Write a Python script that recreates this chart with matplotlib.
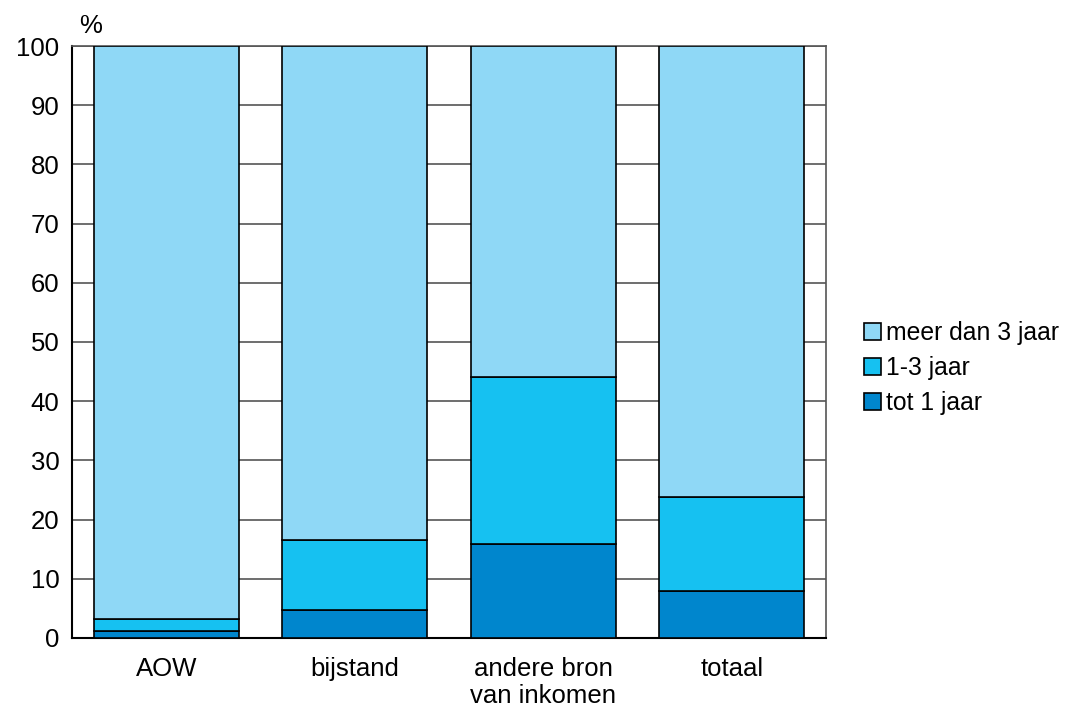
import numpy as np
import matplotlib.pyplot as plt

plt.rcParams['font.family'] = ['Liberation Sans', 'DejaVu Sans']

# data (percentages)
categories = ['AOW', 'bijstand', 'andere bron\nvan inkomen', 'totaal']
tot_1_jaar = [1.2, 4.7, 15.9, 7.9]
jaar_1_3 = [2.0, 11.9, 28.2, 15.9]
meer_dan_3 = [100 - a - b for a, b in zip(tot_1_jaar, jaar_1_3)]

colors = ['#0086CD', '#16C1F1', '#8FD8F6']
fs = 18.5

fig = plt.figure(figsize=(10.68, 7.08), dpi=100)
ax = fig.add_axes([0.0674, 0.0989, 0.706, 0.8361])

x = np.arange(len(categories))
w = 0.77
b1 = ax.bar(x, tot_1_jaar, w, color=colors[0], edgecolor='black', linewidth=1.2, zorder=3, label='tot 1 jaar')
b2 = ax.bar(x, jaar_1_3, w, bottom=tot_1_jaar, color=colors[1], edgecolor='black', linewidth=1.2, zorder=3, label='1-3 jaar')
bottom3 = np.array(tot_1_jaar) + np.array(jaar_1_3)
b3 = ax.bar(x, meer_dan_3, w, bottom=bottom3, color=colors[2], edgecolor='black', linewidth=1.2, zorder=3, label='meer dan 3 jaar')

ax.set_xlim(-0.5, len(categories) - 0.5)
ax.set_ylim(0, 100)
ax.set_yticks(range(0, 101, 10))
ax.yaxis.grid(True, color='#555555', linewidth=1.2, zorder=0)
ax.tick_params(axis='y', length=0, labelsize=fs, pad=9)
ax.tick_params(axis='x', length=0, labelsize=fs, pad=14)
ax.set_xticks(x)
ax.set_xticklabels(categories, linespacing=1.15)
for s in ['left', 'bottom']:
    ax.spines[s].set_color('black')
    ax.spines[s].set_linewidth(1.5)
for s in ['top', 'right']:
    ax.spines[s].set_color('#555555')
    ax.spines[s].set_linewidth(1.2)

fig.text(0.0845, 0.963, '%', fontsize=fs, ha='center', va='center')

handles = [b3, b2, b1]
labels = ['meer dan 3 jaar', '1-3 jaar', 'tot 1 jaar']
fig.legend(handles, labels, loc='center left', bbox_to_anchor=(0.809, 0.48), frameon=False,
           fontsize=17.8, handlelength=0.7, handleheight=0.7, handletextpad=0.2, labelspacing=0.45,
           borderpad=0, borderaxespad=0)

fig.savefig('out.png', dpi=100)
